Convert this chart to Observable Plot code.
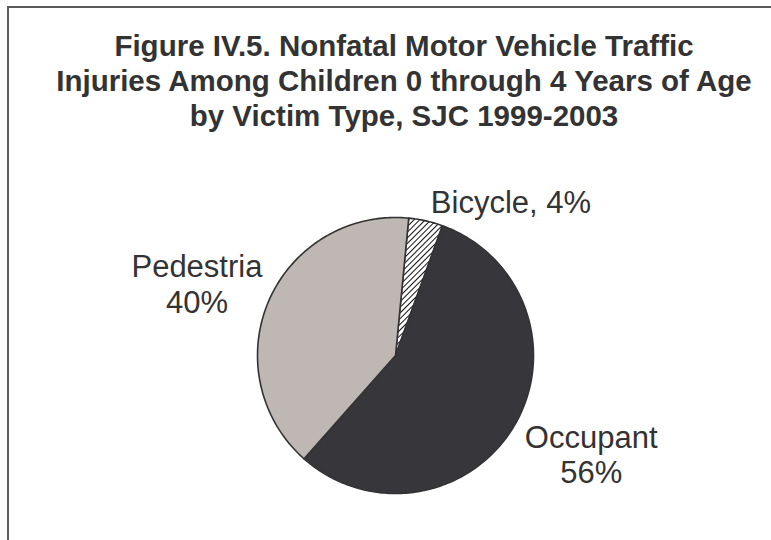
<!DOCTYPE html>
<html>
<head>
<meta charset="utf-8">
<script src="https://cdn.jsdelivr.net/npm/d3@7"></script>
<script src="https://cdn.jsdelivr.net/npm/@observablehq/plot@0.6"></script>
<style>
  html, body { margin: 0; padding: 0; background: #fff; overflow: hidden; }
  #page { position: relative; width: 771px; height: 540px; overflow: hidden; }
  #frame { position: absolute; left: 7px; top: 6px; width: 820px; height: 620px;
           border: 2px solid #5c5c5c; box-sizing: border-box; }
  #title { position: absolute; left: 0; top: 28px; width: 808px; text-align: center;
           font-family: "Liberation Sans", Arial, sans-serif; font-weight: bold;
           font-size: 29.5px; line-height: 35px; color: #333; }
  #chart { position: absolute; left: 0; top: 140px; }
</style>
</head>
<body>
<div id="page">
  <div id="frame"></div>
  <div id="title">Figure IV.5. Nonfatal Motor Vehicle Traffic<br>Injuries Among Children 0 through 4 Years of Age<br>by Victim Type, SJC 1999-2003</div>
  <div id="chart"></div>
</div>
<script>
// ---- data ----
const categories = ["Bicycle", "Occupant", "Pedestria"];
const shares = [4, 56, 40];
const labelTexts = ["Bicycle, 4%", "Occupant\n56%", "Pedestria\n40%"];
const fills = ["url(#hatch)", "#37363b", "#bfb7b4"];

// ---- geometry from data (unit circle) ----
const rad = d => d * Math.PI / 180;
const startDeg = 5.5;
const pie = d3.pie().sort(null).value(d => d.value)
  .startAngle(rad(startDeg)).endAngle(rad(startDeg + 360));
const arcs = pie(categories.map((name, i) => ({name, value: shares[i], label: labelTexts[i]})));

const outline = [];
for (const a of arcs) {
  outline.push({name: a.data.name, x: 0, y: 0});
  const n = Math.max(2, Math.ceil((a.endAngle - a.startAngle) / rad(1)));
  for (let k = 0; k <= n; k++) {
    const t = a.startAngle + (a.endAngle - a.startAngle) * k / n;
    outline.push({name: a.data.name, x: Math.sin(t), y: Math.cos(t)});
  }
}
const mids = arcs.map(a => {
  const m = (a.startAngle + a.endAngle) / 2;
  return {name: a.data.name, text: a.data.label, x: Math.sin(m), y: Math.cos(m)};
});

const labelStyle = {fontSize: 31, fill: "#333", fontFamily: "Liberation Sans, Arial, sans-serif", lineHeight: 1.15};

const plot = Plot.plot({
  width: 771,
  height: 400,
  margin: 0,
  x: {domain: [-1, 1], range: [257, 533], axis: null},
  y: {domain: [-1, 1], range: [353, 77], axis: null},
  color: {type: "ordinal", domain: categories, range: fills},
  style: {background: "transparent", overflow: "visible"},
  marks: [
    Plot.line(outline, {x: "x", y: "y", z: "name", fill: "name", stroke: "#333",
      strokeWidth: 1.6, curve: "linear-closed", strokeLinejoin: "round"}),
    Plot.text(mids.filter(d => d.name === "Bicycle"), {x: "x", y: "y", text: "text",
      textAnchor: "start", dx: 5, dy: -19, ...labelStyle}),
    Plot.text(mids.filter(d => d.name === "Occupant"), {x: "x", y: "y", text: "text",
      textAnchor: "middle", dx: 77, dy: 28, ...labelStyle}),
    Plot.text(mids.filter(d => d.name === "Pedestria"), {x: "x", y: "y", text: "text",
      textAnchor: "middle", dx: -72, dy: -17, ...labelStyle})
  ]
});

// hatch pattern for the Bicycle slice
const ns = "http://www.w3.org/2000/svg";
const defs = document.createElementNS(ns, "defs");
defs.innerHTML = `<pattern id="hatch" patternUnits="userSpaceOnUse" width="4" height="4" patternTransform="rotate(45)">
  <rect width="4" height="4" fill="#fff"/>
  <line x1="0" y1="0" x2="0" y2="4" stroke="#111" stroke-width="2"/>
</pattern>`;
plot.insertBefore(defs, plot.firstChild);
document.getElementById("chart").appendChild(plot);
</script>
</body>
</html>
